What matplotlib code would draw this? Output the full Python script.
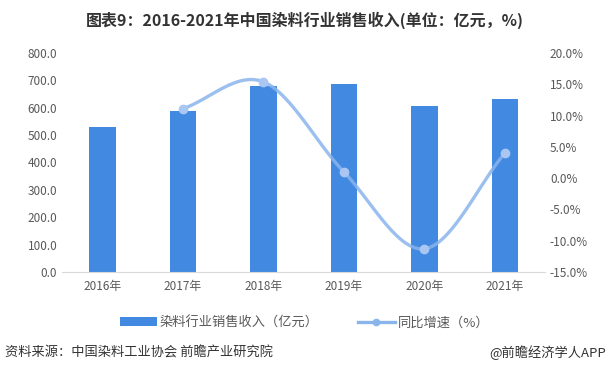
import numpy as np
import matplotlib
matplotlib.use("Agg")
import matplotlib.pyplot as plt

plt.rcParams['font.family'] = ['Noto Sans CJK SC', 'DejaVu Sans']

years = ['2016年', '2017年', '2018年', '2019年', '2020年', '2021年']
revenue = [529, 588, 679, 686, 606, 631]
growth_years_idx = [1, 2, 3, 4, 5]
growth = [11.1, 15.4, 1.0, -11.3, 4.0]
left_ticks = [0, 100, 200, 300, 400, 500, 600, 700, 800]
right_ticks = [-15, -10, -5, 0, 5, 10, 15, 20]

bar_color = '#4189E1'
line_color = '#8AB4EC'
text_color = '#595959'

fig = plt.figure(figsize=(6.09, 3.71), dpi=100)
ax = fig.add_axes([0.102, 0.267, 0.793, 0.59])
x = np.arange(len(years))
ax.bar(x, revenue, width=0.33, color=bar_color, zorder=2, label='染料行业销售收入（亿元）')
ax.set_xlim(-0.5, len(years) - 0.5)
ax.set_ylim(0, 800)
ax.set_yticks(left_ticks)
ax.set_yticklabels([f'{v:.1f}' for v in left_ticks])
ax.set_xticks(x)
ax.set_xticklabels(years)
for s in ['top', 'right', 'left']:
    ax.spines[s].set_visible(False)
ax.spines['bottom'].set_color('#D9D9D9')
ax.tick_params(axis='both', length=0, colors=text_color, labelsize=8.5)
ax.tick_params(axis='x', pad=6)

ax2 = ax.twinx()
ax2.set_ylim(-15, 20)
ax2.set_yticks(right_ticks)
ax2.set_yticklabels([f'{v:.1f}%' for v in right_ticks])
for s in ['top', 'right', 'left', 'bottom']:
    ax2.spines[s].set_visible(False)
ax2.tick_params(axis='both', length=0, colors=text_color, labelsize=8.5)

# smooth curve through data points (Catmull-Rom style rendering)
px = np.array(growth_years_idx, dtype=float)
py = np.array(growth, dtype=float)
def catmull(px, py, n=30):
    P = np.column_stack([px, py])
    P = np.vstack([2 * P[0] - P[1], P, 2 * P[-1] - P[-2]])
    out = []
    for i in range(1, len(P) - 2):
        p0, p1, p2, p3 = P[i - 1], P[i], P[i + 1], P[i + 2]
        t = np.linspace(0, 1, n)[:, None]
        c = 0.5 * ((2 * p1) + (-p0 + p2) * t + (2 * p0 - 5 * p1 + 4 * p2 - p3) * t ** 2
                   + (-p0 + 3 * p1 - 3 * p2 + p3) * t ** 3)
        out.append(c)
    return np.vstack(out)
cur = catmull(px, py)
ax2.plot(cur[:, 0], cur[:, 1], color=line_color, lw=2.4, alpha=0.85, zorder=3)
ax2.plot(px, py, 'o', color='#A9C7F2', ms=6, zorder=4)
ax2.plot([], [], '-o', color=line_color, lw=2.4, ms=4.5, label='同比增速（%）')

h1, l1 = ax.get_legend_handles_labels()
h2, l2 = ax2.get_legend_handles_labels()
fig.legend(h1 + h2, l1 + l2, loc='center', bbox_to_anchor=(0.5, 0.13), ncol=2,
           frameon=False, fontsize=9.5, labelcolor=text_color, handlelength=2.8,
           columnspacing=3.0, handletextpad=0.2)

fig.text(0.5, 0.945, '图表9：2016-2021年中国染料行业销售收入(单位：亿元，%)', ha='center', va='center',
         fontsize=11.5, fontweight='bold', color='#333333')
fig.text(0.008, 0.05, '资料来源：中国染料工业协会 前瞻产业研究院', ha='left', va='center',
         fontsize=9.5, color='#333333')
fig.text(0.995, 0.05, '@前瞻经济学人APP', ha='right', va='center',
         fontsize=9.5, color='#333333')

fig.savefig('out.png', dpi=100)
